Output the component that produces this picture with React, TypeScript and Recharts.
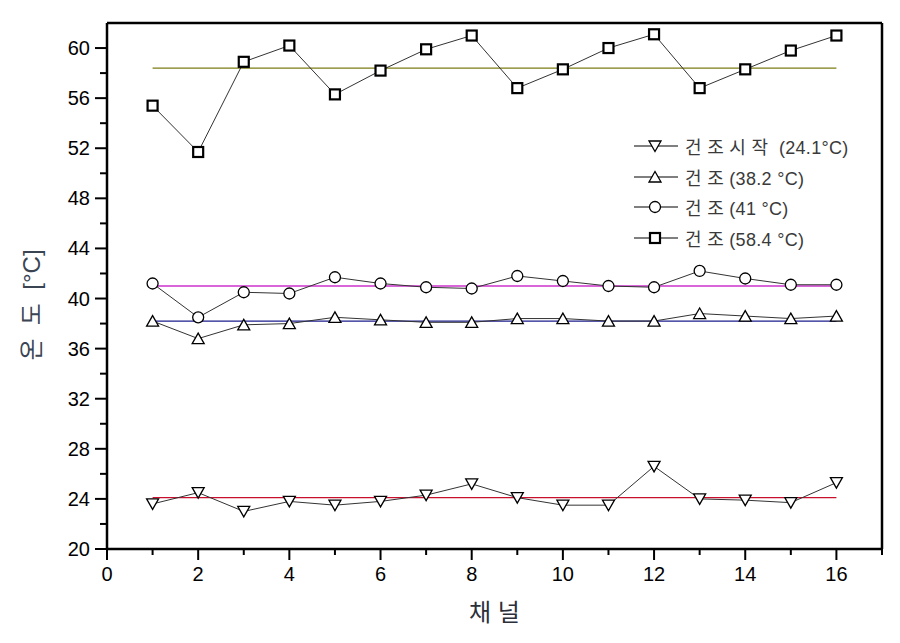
import { ComposedChart, Line, XAxis, YAxis, ReferenceLine, Legend, Label } from 'recharts';

const channels = [1, 2, 3, 4, 5, 6, 7, 8, 9, 10, 11, 12, 13, 14, 15, 16];
const dryStart = [23.6, 24.5, 23.0, 23.8, 23.5, 23.8, 24.3, 25.2, 24.1, 23.5, 23.5, 26.6, 24.0, 23.9, 23.7, 25.3];
const dry38 = [38.2, 36.8, 37.9, 38.0, 38.5, 38.3, 38.1, 38.1, 38.4, 38.4, 38.2, 38.2, 38.8, 38.6, 38.4, 38.6];
const dry41 = [41.2, 38.5, 40.5, 40.4, 41.7, 41.2, 40.9, 40.8, 41.8, 41.4, 41.0, 40.9, 42.2, 41.6, 41.1, 41.1];
const dry58 = [55.4, 51.7, 58.9, 60.2, 56.3, 58.2, 59.9, 61.0, 56.8, 58.3, 60.0, 61.1, 56.8, 58.3, 59.8, 61.0];

const averages = [24.1, 38.2, 41, 58.4];
const avgColors = ['#c8102e', '#1c1c8e', '#cc33cc', '#7d7d14'];
const seriesKeys = ['start', 'd38', 'd41', 'd58'];
const markerKinds = ['down', 'up', 'circle', 'square'];
const legendLabels = ['건 조 시 작  (24.1°C)', '건 조 (38.2 °C)', '건 조 (41 °C)', '건 조 (58.4 °C)'];

const xTicks = [0, 1, 2, 3, 4, 5, 6, 7, 8, 9, 10, 11, 12, 13, 14, 15, 16, 17];
const yTicks = [20, 22, 24, 26, 28, 30, 32, 34, 36, 38, 40, 42, 44, 46, 48, 50, 52, 54, 56, 58, 60];

const data = channels.map((ch, i) => ({
  ch,
  start: dryStart[i],
  d38: dry38[i],
  d41: dry41[i],
  d58: dry58[i],
}));

const numFont = "'Liberation Sans', Arial, sans-serif";
const krFont = "'Liberation Sans', 'Noto Sans CJK KR', sans-serif";

function Marker({ kind, cx, cy }: { kind: string; cx: number; cy: number }) {
  if (kind === 'down') {
    return <path d={`M${cx - 6},${cy - 5} L${cx + 6},${cy - 5} L${cx},${cy + 5.5} Z`} fill="#fff" stroke="#000" strokeWidth={1.3} />;
  }
  if (kind === 'up') {
    return <path d={`M${cx - 6},${cy + 5} L${cx + 6},${cy + 5} L${cx},${cy - 5.5} Z`} fill="#fff" stroke="#000" strokeWidth={1.3} />;
  }
  if (kind === 'circle') {
    return <circle cx={cx} cy={cy} r={5.5} fill="#fff" stroke="#000" strokeWidth={1.3} />;
  }
  return <rect x={cx - 5} y={cy - 5} width={10} height={10} fill="#fff" stroke="#000" strokeWidth={2.2} />;
}

function XTick(props: any) {
  const { x, y, payload } = props;
  const major = payload.value % 2 === 0;
  return (
    <g>
      <line x1={x} x2={x} y1={y} y2={y + (major ? 11 : 6)} stroke="#000" strokeWidth={2} />
      {major && (
        <text x={x} y={y + 32} textAnchor="middle" fontSize={20} fontFamily={numFont} fill="#000">
          {payload.value}
        </text>
      )}
    </g>
  );
}

function YTick(props: any) {
  const { x, y, payload } = props;
  const major = (payload.value - 20) % 4 === 0;
  return (
    <g>
      <line x1={x} x2={x - (major ? 12 : 7)} y1={y} y2={y} stroke="#000" strokeWidth={2} />
      {major && (
        <text x={x - 17} y={y + 7} textAnchor="end" fontSize={20} fontFamily={numFont} fill="#000">
          {payload.value}
        </text>
      )}
    </g>
  );
}

function LegendBox() {
  return (
    <div style={{ fontFamily: krFont, fontSize: 18, color: '#3a3a3a' }}>
      {legendLabels.map((label, i) => (
        <div key={label} style={{ height: 30.5, display: 'flex', alignItems: 'center', whiteSpace: 'pre' }}>
          <svg width={46} height={16} style={{ marginRight: 5 }}>
            <line x1={0} x2={44} y1={8} y2={8} stroke="#000" strokeWidth={1.2} />
            <Marker kind={markerKinds[i]} cx={21} cy={8} />
          </svg>
          <span style={{ letterSpacing: 0.3 }}>{label}</span>
        </div>
      ))}
    </div>
  );
}

export default function App() {
  return (
    <div style={{ position: 'absolute', left: 0, top: 0, background: '#fff' }}>
      <ComposedChart width={900} height={643} data={data} margin={{ top: 23, right: 18, bottom: 34, left: 47 }}>
        <XAxis
          dataKey="ch"
          type="number"
          domain={[0, 17]}
          ticks={xTicks}
          interval={0}
          height={60}
          tickSize={0}
          tickMargin={0}
          tickLine={false}
          tick={XTick}
          axisLine={{ stroke: '#000', strokeWidth: 2.5 }}
        >
          <Label
            content={(p: any) => (
              <text
                x={p.viewBox.x + p.viewBox.width / 2}
                y={p.viewBox.y + 72}
                textAnchor="middle"
                fontSize={24}
                fontFamily={krFont}
                fill="#2a2f3a"
              >
                채  널
              </text>
            )}
          />
        </XAxis>
        <YAxis
          type="number"
          domain={[20, 62]}
          ticks={yTicks}
          interval={0}
          width={60}
          tickSize={0}
          tickMargin={0}
          tickLine={false}
          tick={YTick}
          axisLine={{ stroke: '#000', strokeWidth: 2.5 }}
        >
          <Label
            content={(p: any) => {
              const cx = 31;
              const cy = p.viewBox.y + p.viewBox.height / 2 + 19;
              return (
                <text
                  x={cx}
                  y={cy}
                  transform={`rotate(-90, ${cx}, ${cy})`}
                  textAnchor="middle"
                  dominantBaseline="central"
                  fontSize={24}
                  fontFamily={krFont}
                  fill="#3a4452"
                  style={{ whiteSpace: 'pre' }}
                >
                  온  도  [°C]
                </text>
              );
            }}
          />
        </YAxis>
        <ReferenceLine y={62} stroke="#000" strokeWidth={2.5} />
        <ReferenceLine x={17} stroke="#000" strokeWidth={2.5} />
        {averages.map((avg, i) => (
          <ReferenceLine
            key={`avg-${i}`}
            segment={[
              { x: channels[0], y: avg },
              { x: channels[channels.length - 1], y: avg },
            ]}
            stroke={avgColors[i]}
            strokeWidth={1.3}
          />
        ))}
        {seriesKeys.map((key, i) => (
          <Line
            key={key}
            dataKey={key}
            type="linear"
            stroke="#333"
            strokeWidth={1}
            isAnimationActive={false}
            dot={(p: any) => <Marker key={`${key}-${p.index}`} kind={markerKinds[i]} cx={p.cx} cy={p.cy} />}
            activeDot={false}
          />
        ))}
        <Legend
          layout="vertical"
          align="center"
          verticalAlign="middle"
          wrapperStyle={{ position: 'absolute', left: 634, top: 131, width: 250 }}
          content={() => <LegendBox />}
        />
      </ComposedChart>
    </div>
  );
}
